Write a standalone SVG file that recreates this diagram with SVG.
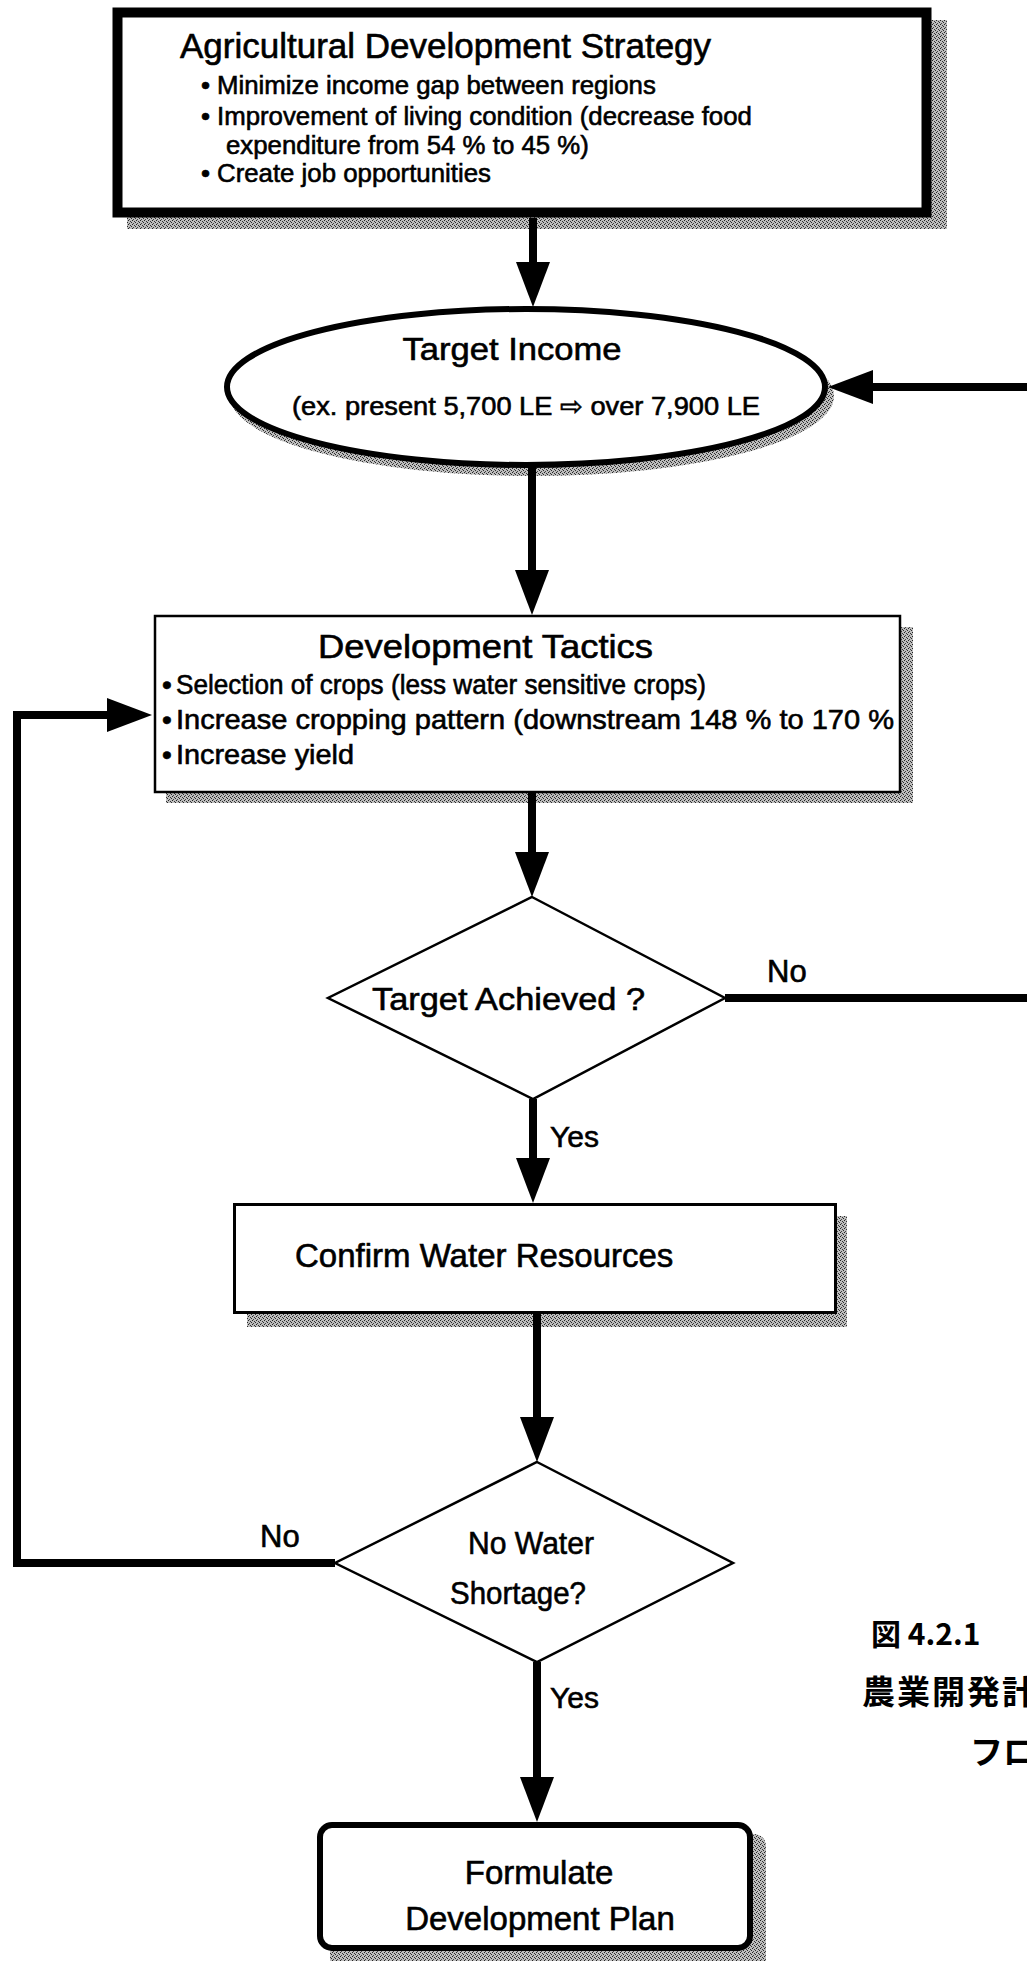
<svg xmlns="http://www.w3.org/2000/svg" width="1027" height="1961" viewBox="0 0 1027 1961">
<defs>
<pattern id="stip" width="4" height="4" patternUnits="userSpaceOnUse">
<rect width="4" height="4" fill="#bdbdbd"/>
<rect x="0" y="0" width="1" height="1" fill="#222"/>
<rect x="2" y="1" width="1" height="1" fill="#333"/>
<rect x="1" y="3" width="1" height="1" fill="#444"/>
<rect x="3" y="2" width="1" height="1" fill="#2a2a2a"/>
</pattern>
<marker id="ah" markerUnits="userSpaceOnUse" markerWidth="46" markerHeight="36" refX="0" refY="18" orient="auto" viewBox="0 0 46 36">
<path d="M0,1 L45,18 L0,35 z" fill="#000"/>
</marker>
<style>
.t{font-family:"Liberation Sans",Arial,sans-serif;fill:#000;stroke:#000;stroke-width:0.6}
.n{font-family:"Liberation Sans Narrow","Liberation Sans",Arial,sans-serif;fill:#000;stroke:#000;stroke-width:0.6}
.j{font-family:"Noto Sans CJK JP",sans-serif;fill:#000;font-weight:bold}
.sh{fill:url(#stip)}
.c{fill:none;stroke:#000;stroke-width:8;stroke-linecap:butt;stroke-linejoin:miter}
</style>
</defs>
<rect width="1027" height="1961" fill="#fff"/>

<g id="strategy">
<rect class="sh" x="127" y="20" width="820" height="209"/>
<rect x="117.5" y="12.5" width="809" height="200" fill="#fff" stroke="#000" stroke-width="10"/>
<text class="t" x="180" y="58" font-size="35">Agricultural Development Strategy</text>
<text class="t" x="201" y="94" font-size="25.8">•</text>
<text class="t" x="217" y="94" font-size="25.8">Minimize income gap between regions</text>
<text class="t" x="201" y="125" font-size="25.8">•</text>
<text class="t" x="217" y="125" font-size="25.8">Improvement of living condition (decrease food</text>
<text class="t" x="226" y="154" font-size="25.8">expenditure from 54 % to 45 %)</text>
<text class="t" x="201" y="182" font-size="25.8">•</text>
<text class="t" x="217" y="182" font-size="25.8">Create job opportunities</text>
</g>

<g id="target-income">
<ellipse class="sh" cx="532" cy="396" rx="302" ry="80"/>
<ellipse cx="526" cy="387" rx="299" ry="78" fill="#fff" stroke="#000" stroke-width="6"/>
<text class="n" x="512" y="360" font-size="32" text-anchor="middle" textLength="219" lengthAdjust="spacingAndGlyphs">Target Income</text>
<text class="n" x="292" y="415" font-size="26" textLength="468" lengthAdjust="spacingAndGlyphs">(ex. present 5,700 LE <tspan font-family="DejaVu Sans,sans-serif">⇨</tspan> over 7,900 LE</text>
</g>

<g id="tactics">
<rect class="sh" x="166" y="627" width="747" height="176"/>
<rect x="155" y="616" width="745" height="176" fill="#fff" stroke="#000" stroke-width="2.5"/>
<text class="n" x="318" y="658" font-size="33" textLength="335" lengthAdjust="spacingAndGlyphs">Development Tactics</text>
<text class="n" x="162" y="694" font-size="28">•</text>
<text class="n" x="176" y="694" font-size="28" textLength="530" lengthAdjust="spacingAndGlyphs">Selection of crops (less water sensitive crops)</text>
<text class="n" x="162" y="729" font-size="28">•</text>
<text class="n" x="176" y="729" font-size="28" textLength="718" lengthAdjust="spacingAndGlyphs">Increase cropping pattern (downstream 148 % to 170 %</text>
<text class="n" x="162" y="764" font-size="28">•</text>
<text class="n" x="176" y="764" font-size="28" textLength="178" lengthAdjust="spacingAndGlyphs">Increase yield</text>
</g>

<g id="target-achieved">
<polygon points="532,897 725,998 533,1099 328,998" fill="#fff" stroke="#000" stroke-width="2.5"/>
<text class="n" x="372" y="1010" font-size="32" textLength="273" lengthAdjust="spacingAndGlyphs">Target Achieved ?</text>
</g>

<g id="confirm-water">
<rect class="sh" x="247" y="1216" width="600" height="111"/>
<rect x="234.5" y="1204.5" width="601" height="108" fill="#fff" stroke="#000" stroke-width="3"/>
<text class="t" x="295" y="1267" font-size="33">Confirm Water Resources</text>
</g>

<g id="water-shortage">
<polygon points="537,1462 733,1563 537,1662 335,1563" fill="#fff" stroke="#000" stroke-width="2.5"/>
<text class="n" x="531" y="1554" font-size="32" text-anchor="middle" textLength="126" lengthAdjust="spacingAndGlyphs">No Water</text>
<text class="n" x="518" y="1604" font-size="32" text-anchor="middle" textLength="136" lengthAdjust="spacingAndGlyphs">Shortage?</text>
</g>

<g id="formulate">
<rect class="sh" x="330" y="1834" width="436" height="140" rx="12"/>
<rect x="320" y="1825" width="430" height="123" rx="12" fill="#fff" stroke="#000" stroke-width="6"/>
<text class="t" x="539" y="1884" font-size="33" text-anchor="middle">Formulate</text>
<text class="t" x="540" y="1930" font-size="33" text-anchor="middle">Development Plan</text>
</g>

<g id="connectors">
<line class="c" x1="533" y1="218" x2="533" y2="262" marker-end="url(#ah)"/>
<path class="c" d="M725,998 H1045 V387 H873" marker-end="url(#ah)"/>
<line class="c" x1="532" y1="466" x2="532" y2="570" marker-end="url(#ah)"/>
<line class="c" x1="532" y1="793" x2="532" y2="852" marker-end="url(#ah)"/>
<line class="c" x1="533" y1="1099" x2="533" y2="1158" marker-end="url(#ah)"/>
<line class="c" x1="537" y1="1313" x2="537" y2="1417" marker-end="url(#ah)"/>
<path class="c" d="M335,1563 H17 V715 H107" marker-end="url(#ah)"/>
<line class="c" x1="537" y1="1662" x2="537" y2="1777" marker-end="url(#ah)"/>
<text class="n" x="767" y="982" font-size="31">No</text>
<text class="n" x="550" y="1147" font-size="30">Yes</text>
<text class="n" x="260" y="1547" font-size="31">No</text>
<text class="n" x="550" y="1708" font-size="30">Yes</text>
</g>

<g id="caption">
<text class="j" x="871" y="1645" font-size="30">図 4.2.1</text>
<text class="j" x="862" y="1704" font-size="33" letter-spacing="2">農業開発計</text>
<text class="j" x="970" y="1764" font-size="33">フロ</text>
</g>
</svg>
